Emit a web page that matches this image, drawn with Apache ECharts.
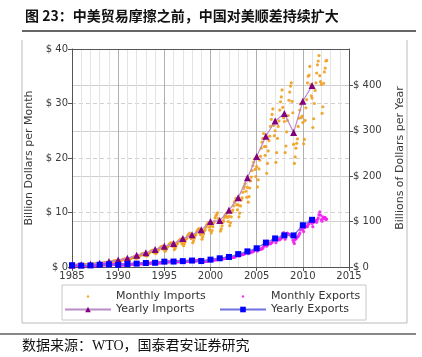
<!DOCTYPE html>
<html><head><meta charset="utf-8">
<script src="https://cdn.jsdelivr.net/npm/echarts@6/dist/echarts.min.js"></script>
<style>html,body{margin:0;padding:0;background:#fff}#c{width:422px;height:357px}</style>
</head><body><div id="c"></div>
<script>
// Yearly values (billions of dollars per year), plotted on right axis
const years = [1985,1986,1987,1988,1989,1990,1991,1992,1993,1994,1995,1996,1997,1998,1999,2000,2001,2002,2003,2004,2005,2006,2007,2008,2009,2010,2011];
const yearlyImports = [3.9,4.8,6.3,8.5,12.0,15.2,19.0,25.7,31.5,38.8,45.5,51.5,62.6,71.2,81.8,100.0,102.3,125.2,152.4,196.7,243.5,287.8,321.4,337.8,296.4,364.9,399.4];
const yearlyExports = [3.9,3.1,3.5,5.0,5.8,4.8,6.3,7.4,8.8,9.3,11.8,12.0,12.9,14.2,13.1,16.2,19.2,22.1,28.4,34.4,41.2,53.7,62.9,69.7,69.5,91.9,103.9];

// Monthly values (billions of dollars per month), one row per year starting 1985, Jan..Dec
const monthStartYear = 1985;
const monthlyImports = [
 [.30,.26,.28,.30,.33,.32,.35,.37,.36,.38,.34,.33],
 [.38,.31,.33,.36,.40,.41,.43,.45,.45,.47,.42,.39],
 [.49,.40,.43,.48,.52,.53,.57,.60,.61,.63,.57,.53],
 [.66,.54,.58,.64,.70,.72,.76,.80,.82,.85,.76,.70],
 [.92,.76,.82,.90,.98,1.01,1.07,1.12,1.14,1.18,1.06,1.00],
 [1.18,.96,1.05,1.12,1.24,1.28,1.36,1.42,1.45,1.50,1.35,1.26],
 [1.45,1.20,1.30,1.42,1.54,1.60,1.70,1.78,1.80,1.86,1.68,1.58],
 [1.95,1.62,1.75,1.90,2.08,2.15,2.30,2.42,2.45,2.52,2.28,2.12],
 [2.40,2.00,2.15,2.35,2.55,2.64,2.82,2.95,3.02,3.10,2.82,2.62],
 [2.95,2.45,2.62,2.88,3.15,3.25,3.48,3.62,3.70,3.82,3.45,3.22],
 [3.45,2.88,3.10,3.38,3.70,3.80,4.08,4.25,4.35,4.48,4.05,3.78],
 [3.95,3.20,3.45,3.80,4.18,4.30,4.62,4.82,4.92,5.10,4.60,4.25],
 [4.75,3.90,4.25,4.65,5.10,5.25,5.62,5.88,5.98,6.20,5.58,5.20],
 [5.40,4.45,4.80,5.30,5.75,5.95,6.40,6.70,6.85,7.05,6.32,5.90],
 [6.20,5.10,5.55,6.05,6.65,6.85,7.35,7.70,7.85,8.10,7.30,6.75],
 [7.55,6.25,6.70,7.40,8.10,8.35,9.00,9.40,9.60,9.95,8.90,8.25],
 [8.30,6.60,7.00,7.55,8.20,8.50,9.10,9.55,9.40,9.90,9.10,8.35],
 [9.30,7.60,8.10,9.20,10.10,10.45,11.20,11.85,12.10,12.60,11.40,10.50],
 [11.40,9.20,9.90,11.20,12.30,12.70,13.70,14.40,14.80,15.30,13.90,12.80],
 [14.60,11.90,12.90,14.50,15.80,16.50,17.70,18.60,19.20,19.80,17.90,16.60],
 [18.40,14.70,16.00,18.00,19.60,20.30,21.80,22.90,23.60,24.50,22.10,20.50],
 [22.10,17.20,19.00,21.30,23.20,24.00,25.80,27.10,28.00,29.00,26.00,24.10],
 [25.00,19.20,21.00,23.60,25.80,26.80,28.80,30.30,31.20,32.50,29.30,27.40],
 [26.70,21.00,22.20,24.80,26.90,27.80,30.60,32.10,33.20,33.80,30.40,28.30],
 [22.50,19.00,20.20,21.80,22.70,23.50,25.80,27.30,28.80,29.90,27.40,27.70],
 [26.50,22.60,23.40,26.90,29.20,30.70,33.80,35.00,35.20,36.80,33.40,31.40],
 [31.00,25.60,27.20,30.00,32.40,33.80,35.60,37.10,37.80,38.80,35.10,34.00],
 [33.50,28.20,29.40,33.70,35.80,36.50,37.80,37.90]
];
const monthlyExports = [
 [.30,.28,.31,.31,.30,.31,.30,.32,.33,.35,.36,.38],
 [.25,.22,.25,.25,.24,.25,.25,.26,.26,.28,.30,.31],
 [.28,.25,.28,.27,.28,.28,.28,.29,.30,.32,.33,.34],
 [.39,.36,.40,.40,.40,.41,.40,.42,.43,.46,.48,.50],
 [.46,.41,.46,.46,.45,.47,.46,.48,.49,.52,.55,.58],
 [.38,.34,.38,.38,.38,.39,.38,.40,.41,.44,.46,.48],
 [.50,.45,.50,.50,.50,.51,.50,.52,.54,.58,.61,.64],
 [.59,.52,.59,.58,.59,.60,.59,.61,.63,.68,.72,.75],
 [.70,.62,.69,.69,.69,.71,.69,.72,.74,.80,.84,.88],
 [.74,.66,.74,.74,.74,.76,.74,.77,.79,.86,.90,.94],
 [.93,.83,.93,.93,.93,.95,.93,.96,.99,1.08,1.13,1.18],
 [.95,.85,.95,.95,.95,.97,.95,.98,1.01,1.10,1.15,1.20],
 [1.02,.92,1.02,1.02,1.03,1.05,1.02,1.06,1.09,1.19,1.24,1.30],
 [1.12,1.00,1.12,1.12,1.12,1.14,1.12,1.16,1.19,1.30,1.36,1.42],
 [1.03,.93,1.03,1.03,1.04,1.06,1.03,1.07,1.10,1.20,1.25,1.31],
 [1.28,1.15,1.28,1.28,1.28,1.31,1.28,1.32,1.36,1.49,1.55,1.62],
 [1.52,1.36,1.52,1.52,1.52,1.55,1.52,1.57,1.62,1.76,1.84,1.92],
 [1.75,1.56,1.75,1.75,1.75,1.78,1.75,1.80,1.86,2.02,2.12,2.21],
 [2.25,2.01,2.25,2.25,2.25,2.30,2.25,2.32,2.39,2.61,2.73,2.84],
 [2.73,2.44,2.73,2.73,2.72,2.78,2.73,2.81,2.90,3.16,3.30,3.44],
 [3.26,2.92,3.26,3.26,3.26,3.33,3.26,3.36,3.46,3.77,3.94,4.12],
 [4.26,3.81,4.26,4.26,4.25,4.35,4.26,4.39,4.52,4.93,5.15,5.38],
 [4.98,4.45,4.98,4.98,4.98,5.08,4.98,5.14,5.29,5.76,6.03,6.29],
 [5.60,5.10,5.75,5.90,6.20,6.10,6.00,5.90,5.80,5.70,5.60,4.95],
 [4.60,4.30,5.00,5.20,5.30,5.50,5.60,5.90,6.20,6.80,7.30,7.80],
 [6.90,6.50,7.30,7.30,7.40,7.50,7.40,7.80,8.00,8.40,8.80,8.60],
 [8.00,7.40,8.20,8.30,8.40,8.50,8.20,8.70,9.00,9.60,10.10,9.50],
 [8.70,8.40,9.20,8.90,9.00,9.10,8.70,8.80]
];

const xTicks = [1985,1990,1995,2000,2005,2010,2015];
const leftTicks = [0,10,20,30,40];
const rightTicks = [0,100,200,300,400];

const titleText = '图 23：中美贸易摩擦之前，中国对美顺差持续扩大';
const sourceText = '数据来源：WTO，国泰君安证券研究';

function monthlyPoints(rows){
  const out=[];
  rows.forEach((r,i)=>r.forEach((v,m)=>out.push([monthStartYear+i+m/12, v])));
  return out;
}

// small dot centred in a wide, empty icon box (legend marker for the scatter series)
const dotIcon = 'path://M0,0L0,0M46,7L46,7M21.8,3.5a1.2,1.2 0 1,0 2.4,0a1.2,1.2 0 1,0 -2.4,0Z';

const chart = echarts.init(document.getElementById('c'), null, {renderer:'canvas'});
const axisTxt = {color:'#3a3a3a', fontSize:10, fontFamily:'DejaVu Sans'};
const legendTxt = {color:'#333', fontSize:11, fontFamily:'DejaVu Sans'};
const option = {
  animation:false,
  grid:{left:72, right:73, top:49, bottom:90},
  title:{text:titleText, left:20, top:4, textStyle:{fontSize:14, fontWeight:'bold', color:'#111', fontFamily:'Noto Sans CJK SC'}},
  xAxis:[{
    type:'value', min:xTicks[0], max:xTicks[xTicks.length-1], interval:5,
    axisLine:{show:true, onZero:false, lineStyle:{color:'#555'}},
    axisTick:{show:true, length:4, lineStyle:{color:'#555'}},
    axisLabel:{...axisTxt, margin:4, formatter:v=>String(v)},
    splitLine:{show:true, lineStyle:{color:'#b0b0b0', width:1}},
    minorTick:{show:false, splitNumber:5},
    minorSplitLine:{show:true, lineStyle:{color:'#e4e4e4', width:1}}
  },{
    type:'value', position:'top', min:xTicks[0], max:xTicks[xTicks.length-1],
    axisLine:{show:true, onZero:false, lineStyle:{color:'#555'}},
    axisTick:{show:false}, axisLabel:{show:false}, splitLine:{show:false}
  }],
  yAxis:[{
    type:'value', min:leftTicks[0], max:leftTicks[leftTicks.length-1], interval:10,
    name:'Billion Dollars per Month', nameLocation:'middle', nameRotate:90, nameGap:34,
    nameTextStyle:{color:'#3a3a3a', fontSize:11, fontFamily:'DejaVu Sans'},
    axisLine:{show:true, lineStyle:{color:'#555'}},
    axisTick:{show:true, length:4, lineStyle:{color:'#555'}},
    axisLabel:{...axisTxt, margin:4, formatter:v=>'$ '+v},
    splitLine:{show:true, lineStyle:{color:'#d0d0d0', type:[4,3]}}
  },{
    type:'value', position:'right', min:rightTicks[0], max:480, interval:100,
    name:'Billions of Dollars per Year', nameLocation:'middle', nameRotate:90, nameGap:46,
    nameTextStyle:{color:'#3a3a3a', fontSize:11, fontFamily:'DejaVu Sans'},
    axisLine:{show:true, lineStyle:{color:'#555'}},
    axisTick:{show:true, length:4, lineStyle:{color:'#555'}},
    axisLabel:{...axisTxt, margin:4, showMaxLabel:false, formatter:v=>(v%100===0?'$ '+v:'')},
    splitLine:{show:true, lineStyle:{color:'#cfcfcf'}}
  }],
  legend:[{
    left:64, top:291, padding:0, orient:'vertical', itemGap:2, itemWidth:46, itemHeight:7,
    textStyle:legendTxt,
    data:[{name:'Monthly Imports', icon:dotIcon},'Yearly Imports']
  },{
    left:219, top:291, padding:0, orient:'vertical', itemGap:2, itemWidth:46, itemHeight:7,
    textStyle:legendTxt,
    data:[{name:'Monthly Exports', icon:dotIcon},'Yearly Exports']
  }],
  series:[
    {name:'Monthly Imports', type:'scatter', xAxisIndex:0, yAxisIndex:0, symbolSize:3.2,
     itemStyle:{color:'#f0a020', opacity:0.9}, data:monthlyPoints(monthlyImports), z:2},
    {name:'Monthly Exports', type:'scatter', xAxisIndex:0, yAxisIndex:0, symbolSize:3.2,
     itemStyle:{color:'#f020f0', opacity:0.9}, data:monthlyPoints(monthlyExports), z:2},
    {name:'Yearly Imports', type:'line', xAxisIndex:0, yAxisIndex:1, symbol:'triangle', symbolSize:7,
     itemStyle:{color:'#800080'}, lineStyle:{color:'#b98cc8', width:1.2},
     data:years.map((y,i)=>[y, yearlyImports[i]]), z:3},
    {name:'Yearly Exports', type:'line', xAxisIndex:0, yAxisIndex:1, symbol:'rect', symbolSize:6,
     itemStyle:{color:'#0000ff'}, lineStyle:{color:'#7070e0', width:1.2},
     data:years.map((y,i)=>[y, yearlyExports[i]]), z:4}
  ],
  graphic:[
    {type:'line', shape:{x1:22,y1:31,x2:416,y2:31}, style:{stroke:'#333', lineWidth:1.5}, silent:true},
    {type:'line', shape:{x1:22,y1:40,x2:22,y2:323}, style:{stroke:'#bbb', lineWidth:1}, silent:true},
    {type:'line', shape:{x1:407,y1:40,x2:407,y2:323}, style:{stroke:'#bbb', lineWidth:1}, silent:true},
    {type:'line', shape:{x1:22,y1:323,x2:407,y2:323}, style:{stroke:'#bbb', lineWidth:1}, silent:true},
    {type:'line', shape:{x1:0,y1:334,x2:416,y2:334}, style:{stroke:'#888', lineWidth:2}, silent:true},
    {type:'rect', shape:{x:62,y:285,width:304,height:35}, style:{fill:'none', stroke:'#c8c8c8', lineWidth:1}, silent:true},
    {type:'text', left:22, top:339, style:{text:sourceText, fill:'#111', fontSize:14, fontFamily:'Liberation Serif, Noto Sans CJK SC'}, silent:true}
  ]
};
chart.setOption(option);
</script></body></html>
